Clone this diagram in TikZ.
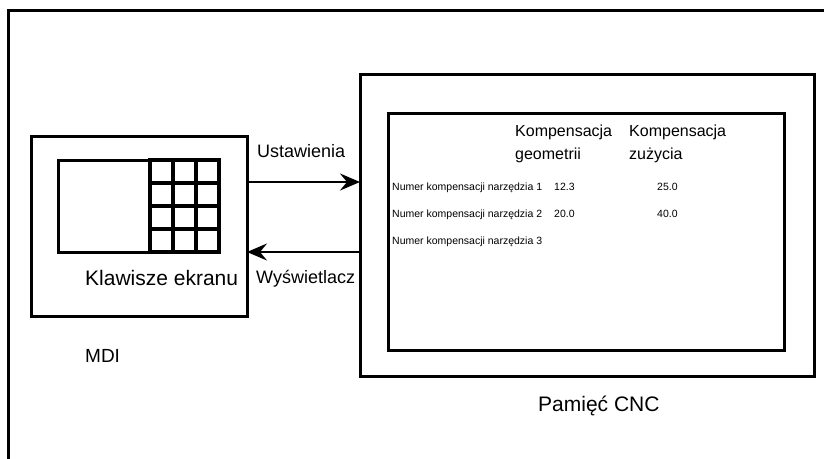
\documentclass[tikz,border=0pt]{standalone}
\usepackage{fontspec}
\setmainfont{Liberation Sans}
\usetikzlibrary{arrows.meta}

\tikzset{
  box/.style={draw, line width=3pt, inner sep=0pt, outer sep=0pt},
  keyline/.style={line width=3.3pt},
  lbl/.style={anchor=base west, inner sep=0pt, font=\fontsize{#1}{#1}\selectfont},
  lbl/.default=18,
  arr/.style={line width=2pt, -{Stealth[length=20pt,width=17pt,inset=7pt]}},
}

\begin{document}
\begin{tikzpicture}[x=1pt, y=-1pt]
    \useasboundingbox (0,0) rectangle (824,458);
    \clip (0,0) rectangle (824,458);
    % outer frame, runs off the page to the right and bottom
    \draw[line width=2.6pt] (8.5,470) -- (8.5,10.5) -- (840,10.5);

    % MDI panel with its screen and keys
    \node[box, minimum width=216pt, minimum height=180pt] (mdi) at (139,226) {};
    \node[box, minimum width=161pt, minimum height=92pt] (scr) at (138.5,206) {};
    \draw[keyline] (150,160) rectangle (scr.south east);
    \foreach \x in {150,173,196}
      \draw[keyline] (\x,160) -- (\x,252);
    \foreach \y in {183,206,229}
      \draw[keyline] (150,\y) -- (219,\y);
    \node[lbl=21] (klaw) at (85,285) {Klawisze ekranu};
    \node[lbl=19] (mdilbl) at (85,362) {MDI};

    % CNC memory and offset table
    \node[box, minimum width=454pt, minimum height=302pt] (cnc) at (587,225) {};
    \node[box, minimum width=396pt, minimum height=237pt] (disp) at (586,231.5) {};
    \node[lbl=21] (pam) at (538,411) {Pamięć CNC};

    \node[lbl=16] (geo1) at (515,136) {Kompensacja};
    \node[lbl=16] (geo2) at (515,159) {geometrii};
    \node[lbl=16] (zuz1) at (629,136) {Kompensacja};
    \node[lbl=16] (zuz2) at (629,159) {zużycia};

    \foreach \i in {1,2,3}
      \node[lbl=10.5] (nr\i) at (392,163+27*\i) {Numer kompensacji narzędzia \i};
    \foreach \i/\g/\z in {1/12.3/25.0, 2/20.0/40.0} {
      \node[lbl=10.5] (g\i) at (554,163+27*\i) {\g};
      \node[lbl=10.5] (z\i) at (657,163+27*\i) {\z};
    }

    % data flow
    \draw[arr] (mdi.east |- 0,182) -- (cnc.west |- 0,182);
    \draw[arr] (cnc.west |- 0,252) -- (mdi.east |- 0,252);
    \node[lbl] (ust) at (257,157) {Ustawienia};
    \node[lbl] (wys) at (256,283) {Wyświetlacz};
\end{tikzpicture}
\end{document}
